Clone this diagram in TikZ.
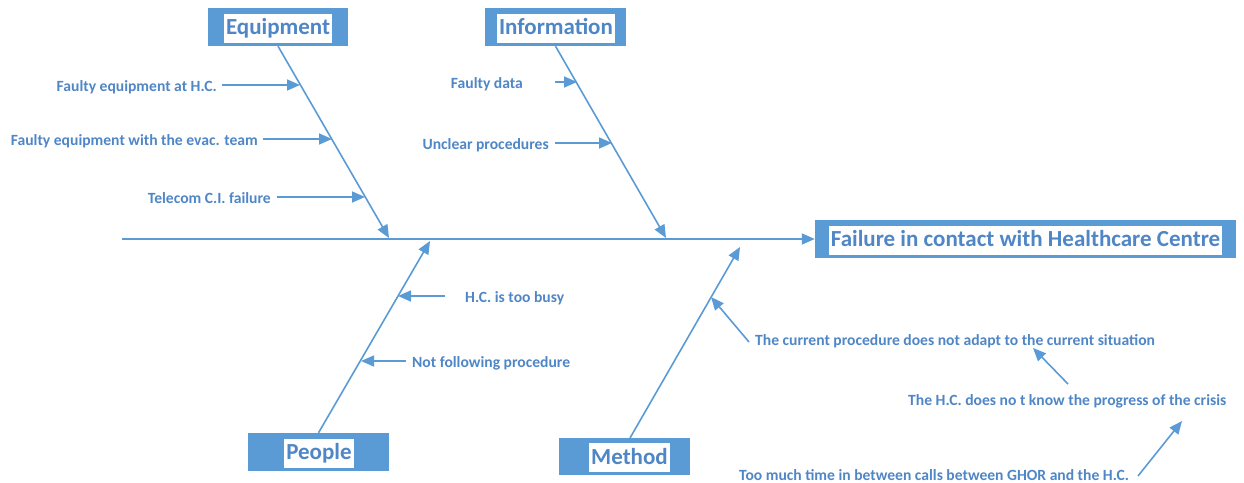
\documentclass[tikz,border=0pt]{standalone}
\usepackage{fontspec}
\setmainfont{Carlito}
\usetikzlibrary{arrows.meta}
\definecolor{lineblue}{HTML}{5B9BD5}
\definecolor{textblue}{HTML}{4F86C6}
\begin{document}
\begin{tikzpicture}[x=1pt,y=-1pt,
  catbox/.style={fill=lineblue, draw=none, inner sep=0pt},
  cattext/.style={fill=white, inner xsep=2pt, inner ysep=0pt, text height=21pt, text depth=8pt,
    font=\fontsize{23}{27}\selectfont\bfseries, text=textblue},
  lbl/.style={font=\fontsize{15.6}{18}\selectfont\bfseries, text=textblue, inner sep=0pt,
    text height=13pt, text depth=0pt},
  arr/.style={draw=lineblue, line width=1.6pt, -{Triangle[length=13pt,width=11pt]}}]
\useasboundingbox (0,0) rectangle (1244,482);

% category boxes
\node[catbox, minimum width=140pt, minimum height=38pt] (eq) at (278,27) {};
\node[cattext] (eqt) at (278,28) {Equipment};
\node[catbox, minimum width=141pt, minimum height=38pt] (in) at (555.5,27) {};
\node[cattext] (int) at (556,28) {Information};
\node[catbox, minimum width=421pt, minimum height=38pt] (fail) at (1025.5,239) {};
\node[cattext] (failt) at (1025.5,240) {Failure in contact with Healthcare Centre};
\node[catbox, minimum width=141pt, minimum height=38pt] (pe) at (318.5,452) {};
\node[cattext] (pet) at (319,453) {People};
\node[catbox, minimum width=131pt, minimum height=37pt] (me) at (624.5,456.5) {};
\node[cattext] (met) at (629.5,457.5) {Method};

% spine
\coordinate (spL) at (122,239);
\draw[arr] (spL) -- (fail.west);

% main bones
\coordinate (eqtip) at (389,238);
\coordinate (intip) at (666,238);
\coordinate (petip) at (430,241);
\coordinate (mebase) at (630,438);
\coordinate (metip) at (740,247);
\draw[arr] (eq.south) -- (eqtip);
\draw[arr] (in.south) -- (intip);
\draw[arr] (pe.north) -- (petip);
\draw[arr] (mebase) -- (metip);

% Equipment causes
\node[lbl, anchor=east] (c1) at (217,85) {Faulty equipment at H.C.};
\node[lbl, anchor=east] (c2) at (258,139) {Faulty equipment with the evac. team};
\node[lbl, anchor=east] (c3) at (271,197) {Telecom C.I. failure};
\coordinate (c1t) at (300,85);
\coordinate (c2t) at (332,139);
\coordinate (c3t) at (365,197);
\draw[arr] ([xshift=5pt]c1.east) -- (c1t);
\draw[arr] ([xshift=5pt]c2.east) -- (c2t);
\draw[arr] ([xshift=6pt]c3.east) -- (c3t);

% Information causes
\node[lbl, anchor=east] (c4) at (523,82) {Faulty data};
\node[lbl, anchor=east] (c5) at (549,143) {Unclear procedures};
\coordinate (c4s) at (555,82);
\coordinate (c4t) at (577,82);
\coordinate (c5t) at (612,143);
\draw[arr] (c4s) -- (c4t);
\draw[arr] ([xshift=6pt]c5.east) -- (c5t);

% People causes
\node[lbl, anchor=west] (c6) at (465,296) {H.C. is too busy};
\node[lbl, anchor=west] (c7) at (412,361) {Not following procedure};
\coordinate (c6s) at (445,296);
\coordinate (c6t) at (398,296);
\coordinate (c7t) at (361,361);
\draw[arr] (c6s) -- (c6t);
\draw[arr] ([xshift=-6pt]c7.west) -- (c7t);

% Method causes
\node[lbl, anchor=west] (c8) at (755,339) {The current procedure does not adapt to the current situation};
\node[lbl, anchor=west] (c9) at (908,399) {The H.C. does no t know the progress of the crisis};
\node[lbl, anchor=west] (c10) at (739,474) {Too much time in between calls between GHOR and the H.C.};
\coordinate (c8s) at (749,342);
\coordinate (c8t) at (711,297);
\coordinate (c9s) at (1068,384);
\coordinate (c9t) at (1033,348);
\coordinate (c10s) at (1138,476);
\coordinate (c10t) at (1182,421);
\draw[arr] (c8s) -- (c8t);
\draw[arr] (c9s) -- (c9t);
\draw[arr] (c10s) -- (c10t);
\end{tikzpicture}
\end{document}
